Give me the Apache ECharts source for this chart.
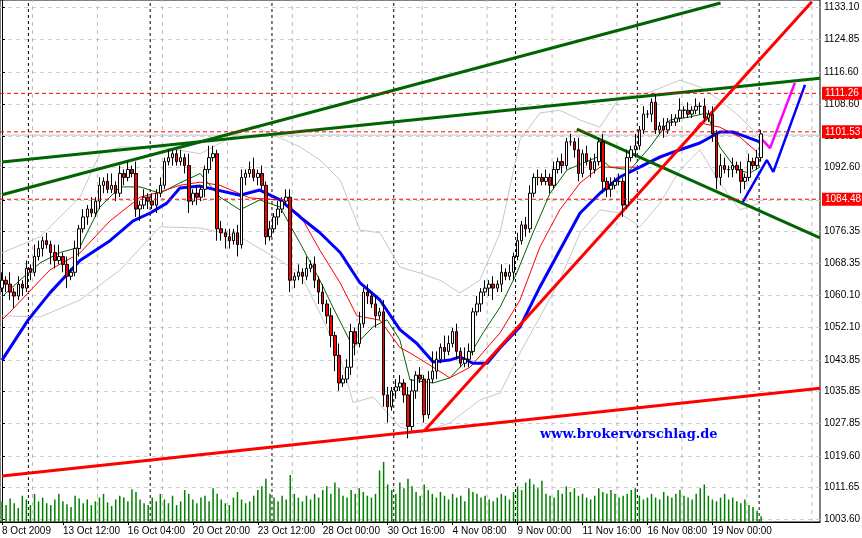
<!DOCTYPE html>
<html>
<head>
<meta charset="utf-8">
<script src="https://cdn.jsdelivr.net/npm/echarts@6/dist/echarts.min.js"></script>
<style>html,body{margin:0;padding:0;background:#fff}#chart{width:862px;height:538px}</style>
</head>
<body>
<div id="chart"></div>
<script>
// 4h bars, one label every 16 bars
const dateLabels = ['8 Oct 2009', '13 Oct 12:00', '16 Oct 04:00', '20 Oct 20:00', '23 Oct 12:00', '28 Oct 00:00',
  '30 Oct 16:00', '4 Nov 08:00', '9 Nov 00:00', '11 Nov 16:00', '16 Nov 08:00', '19 Nov 00:00', '', ''];
const priceTicks = [1133.10, 1124.85, 1116.60, 1108.60, 1100.35, 1092.60, 1084.35, 1076.35, 1068.35,
  1060.10, 1052.10, 1043.85, 1035.85, 1027.85, 1019.60, 1011.65, 1003.60];

const closes = [
  1064,1063,1061,1060,1063,1062,1067,1066,1070,1072,
  1074,1073,1071,1069,1070,1068,1065,1066,1072,1077,
  1080,1082,1081,1084,1088,1089,1087,1088,1086,1091,
  1090,1092,1091,1082,1083,1085,1084,1083,1086,1088,
  1094,1095,1096,1094,1095,1093,1084,1086,1085,1087,
  1092,1095,1096,1077,1076,1075,1074,1076,1073,1090,
  1091,1092,1090,1091,1088,1075,1077,1080,1082,1084,
  1085,1064,1065,1066,1065,1067,1068,1064,1061,1058,
  1055,1050,1045,1038,1039,1042,1051,1048,1053,1061,
  1060,1058,1055,1056,1035,1032,1036,1037,1038,1035,
  1027,1036,1040,1039,1030,1039,1041,1044,1047,1046,
  1048,1051,1046,1043,1044,1046,1056,1058,1061,1062,
  1063,1062,1063,1066,1065,1066,1070,1074,1078,1077,
  1086,1090,1090,1089,1090,1088,1092,1094,1093,1099,
  1099,1097,1091,1096,1094,1092,1094,1099,1089,1087,
  1088,1089,1089,1083,1095,1097,1098,1102,1106,1106,
  1109,1102,1103,1102,1104,1104,1105,1107,1107,1106,
  1107,1108,1108,1105,1106,1101,1090,1093,1092,1092,
  1093,1092,1089,1090,1094,1093,1095,1101
];
const firstOpen = 1062;
const wickUp = [
  2,1,3,1,2,1,2,1,3,2, 1,2,1,2,3,1,2,1,2,1, 2,1,3,1,2,1,2,3,1,2, 1,2,1,3,1,2,1,2,1,2,
  1,2,1,1,2,1,3,1,2,1, 1,3,2,1,2,1,2,1,2,2, 1,2,3,1,2,1,2,1,2,1, 2,2,1,2,1,3,1,2,1,2,
  1,2,1,3,1,2,2,1,3,1, 2,1,2,1,3,2,1,2,2,1, 2,3,1,2,1,2,5,2,1,3, 2,1,2,1,3,2,1,2,1,2,
  1,2,1,2,1,2,1,2,1,2, 2,1,2,1,2,1,2,1,2,1, 2,1,3,1,2,1,2,1,2,1, 2,1,2,1,2,1,3,1,2,1,
  1,2,1,2,1,2,1,3,1,2, 1,2,1,2,1,2,1,3,2,1, 2,1,2,1,2,1,2,1
];
const wickDn = [
  1,2,2,3,1,2,1,2,1,1, 2,1,3,2,1,2,3,1,1,2, 1,2,1,1,2,2,1,1,2,1, 2,1,1,2,3,1,2,1,2,1,
  1,1,2,1,1,2,3,1,2,1, 2,1,1,3,2,3,2,1,3,1, 2,1,1,2,1,2,1,1,2,1, 1,3,2,1,2,1,1,2,3,2,
  2,3,4,2,1,1,2,3,1,1, 2,1,3,1,3,4,1,2,1,2, 3,1,2,1,2,1,1,2,1,2, 1,1,2,1,1,2,1,1,2,1,
  2,3,1,2,1,1,2,1,1,2, 1,1,2,1,1,2,1,1,2,1, 1,2,2,1,1,2,1,1,3,2, 2,1,1,3,1,1,2,1,1,1,
  2,1,1,2,1,1,1,1,2,1, 1,1,2,1,1,2,3,2,1,2, 2,1,3,2,1,1,1,1
];
const volumes = [
  22,18,25,20,15,28,24,18,30,22, 26,20,18,24,30,22,19,16,28,25, 20,24,18,22,26,30,21,17,24,28,
  26,22,35,32,24,20,18,26,22,30, 24,20,28,18,22,34,30,24,20,26, 28,22,36,30,24,20,18,26,32,24,
  20,22,28,34,38,46,30,26,22,28, 24,50,30,26,22,28,24,30,26,34, 38,30,42,36,28,26,34,30,36,32,
  28,26,30,55,64,40,34,30,42,36, 46,38,32,28,40,34,30,26,32,28, 24,30,26,28,22,36,32,30,26,28,
  24,22,26,30,28,24,32,38,34,42, 46,40,36,44,30,28,26,34,30,38, 32,36,28,30,26,24,28,36,32,30,
  34,30,26,28,30,34,36,28,24,26, 30,26,24,32,28,26,30,34,28,26, 24,30,36,40,28,24,22,26,30,24,
  26,22,20,24,18,16,12,6
];

// indicator lines: [bar index, price]
const maBlue = [[0,1043.8],[6.4,1053.9],[11.8,1060.8],[19.2,1069],[26.6,1074],[32.3,1079],[36.5,1081],[40.6,1083.5],
  [43.8,1087.3],[48.8,1087.8],[58.6,1085.5],[63.5,1086.8],[68.5,1084.3],[73.4,1080],[78.3,1076],[83.3,1071],
  [88.2,1063.3],[93.1,1059],[98,1051.5],[102.2,1048],[106.2,1043.3],[110.3,1043.8],[112.8,1044.6],[116,1043],
  [119.5,1043],[122.7,1046.9],[127.6,1052.2],[132.5,1062.3],[137.4,1071.6],[142.4,1081],[147.3,1086],
  [152.2,1090.1],[157.1,1092.6],[162.1,1095.2],[167,1097],[171.9,1098.7],[176.8,1101.5],[180,1101.5],
  [183.5,1100.2],[186.7,1099]];
const maRed = [[0,1054],[2,1056],[11.8,1066.6],[19.2,1070.9],[26.6,1079],[34,1085],[38.9,1086.3],[43.8,1088],
  [48.8,1088.8],[53.7,1088],[61.1,1084.8],[68.5,1084.3],[73.4,1080.5],[78.3,1071.6],[83.3,1063.3],[87.4,1055],
  [93.1,1053.9],[98,1047],[100.5,1045.6],[106.2,1042],[110.3,1039.3],[115.3,1042],[122.7,1050.7],[127.6,1059],
  [132.5,1072.4],[137.4,1081.8],[142.4,1088.6],[147.3,1092.6],[152.2,1092.6],[157.1,1092.6],[167,1097],
  [171.9,1103.8],[176.8,1102.7],[181.8,1100.2],[186,1096.4]];
const maGreen = [[0,1059.8],[4.4,1064],[9.4,1068.4],[14.3,1071],[19.2,1072.4],[24.1,1082.5],[29.1,1087.6],
  [34,1087.6],[38.9,1086],[43.8,1088.6],[48.8,1091],[53.7,1085],[58.6,1081.8],[63.5,1084.3],[68.5,1082.5],
  [73.4,1073.4],[78.3,1064],[81.5,1057.2],[86.5,1047],[91.4,1052.2],[94.8,1054],[98,1048.9],[100.5,1038.8],
  [106.2,1038],[110.3,1039.3],[114.5,1043.8],[118.5,1050.7],[122.7,1057.2],[126.8,1065.8],[130.8,1076],
  [135,1086],[139.2,1091.9],[143.1,1093.6],[146.8,1095.2],[149.8,1092.6],[154.7,1091.9],[159.6,1097.7],
  [164.5,1104.5],[169.5,1105.3],[173.6,1106.3],[176.8,1097.7],[181,1091.9],[184.2,1091.1],[186.7,1092.6]];
const bandUp = [[0,1070.9],[9.4,1075],[19.2,1085],[24.1,1096],[29.1,1097.7],[38.9,1097.7],[48.8,1096],
  [61.8,1103],[68.5,1100],[73.4,1097.7],[78.3,1094.4],[83.3,1089.3],[88.2,1076.7],[93.1,1076],[98,1067.3],
  [103,1065.8],[107.9,1064],[112.8,1060.8],[117.7,1064],[122.7,1076],[127.6,1099.5],[132.5,1106.3],[137.4,1107],
  [142.4,1104.5],[147.3,1102.7],[152.2,1110.3],[158.9,1111.3],[167,1114.6],[171.9,1112.9],[176.8,1109.6],
  [181.8,1105.3],[186.7,1100.2]];
const bandDn = [[0,1055],[9.4,1054.7],[19.2,1059],[29.1,1066.6],[38.9,1077.5],[48.8,1077.2],[58.6,1075],
  [68.5,1069],[73.4,1065.8],[78.3,1055.7],[83.3,1044.6],[86.5,1033],[91.4,1034.5],[98,1026.9],[103,1025.4],
  [110.3,1027.9],[117.7,1033.7],[122.7,1035.5],[127.6,1045.6],[132.5,1054.7],[137.4,1064],[142.4,1076],
  [147.3,1081.8],[152.2,1081],[157.1,1077.5],[162.1,1083.5],[167,1091.9],[171.9,1097],[176.8,1088.6],
  [181.8,1081.8],[186.7,1083.5]];

// hand-drawn trend lines and projections
const greenTrendA = [[0,1085.6],[177,1134.1]];
const greenTrendB = [[0,1093.9],[201.5,1115.1]];
const greenTrendC = [[141.6,1102.2],[201.5,1074.7]];
const redTrendLow = [[0,1014.5],[201.5,1036.7]];
const redTrendUp = [[104.2,1026.1],[199.5,1134.4]];
const blueProjection = [[182.5,1083.8],[188.4,1094.4],[190,1091.4],[197.8,1113.4]];
const magentaProjection = [[186.7,1100.2],[189.2,1097.4],[195.3,1113.9]];
const levels = [1111.26, 1101.53, 1084.48];
const lastPrice = 1100.7;
const weekStarts = [6.5, 36.5, 66.5, 96.5, 126.5, 156.5, 186.5];
const gridCols = [7.5, 23.5, 39.5, 55.5, 71.5, 87.5, 103.5, 119.5, 135.5, 151.5, 167.5, 183.5, 199.5];

const N = 202;
const Y_MIN = 1002.85, Y_MAX = 1134.87;
// label k sits on bar 16k-1 (first one on bar 0), left-aligned like the terminal
const cats = Array.from({ length: N }, () => '');
dateLabels.forEach((d, k) => { const i = k === 0 ? 0 : 16 * k - 1; if (i < N) cats[i] = d; });
const ohlc = closes.map((c, i) => {
  const o = i === 0 ? firstOpen : closes[i - 1];
  return [o, c, Math.min(o, c) - wickDn[i], Math.max(o, c) + wickUp[i]];
});

const chart = echarts.init(document.getElementById('chart'));
const line = (data, color, width, type = 'solid', z = 3) => ({
  type: 'line', xAxisIndex: 1, yAxisIndex: 0, data, symbol: 'none', silent: true,
  lineStyle: { color, width, type }, z
});
const vline = (x, color, dash, z) => line([[x, Y_MIN], [x, Y_MAX]], color, 1, dash, z);
const hline = (v, color, dash, z) => line([[-0.5, v], [N - 0.5, v]], color, 1, dash, z);

chart.setOption({
  animation: false,
  backgroundColor: '#fff',
  textStyle: { fontFamily: 'Liberation Sans' },
  grid: [
    { left: 0, right: 42, top: 0, bottom: 16, show: true, borderColor: '#000', borderWidth: 1,
      containLabel: false, outerBoundsMode: 'none' },
    { left: 0, right: 42, top: 400, bottom: 16, containLabel: false, outerBoundsMode: 'none' }
  ],
  xAxis: [
    {
      type: 'category', data: cats, gridIndex: 0, boundaryGap: true,
      axisLine: { lineStyle: { color: '#000' } },
      axisTick: { show: true, length: 3, alignWithLabel: true, interval: i => cats[i] !== '', lineStyle: { color: '#000' } },
      axisLabel: { interval: i => cats[i] !== '', fontSize: 10, color: '#000', margin: 4, align: 'left' },
      splitLine: { show: false }
    },
    {
      type: 'value', gridIndex: 0, min: -0.5, max: N - 0.5, show: true,
      axisLine: { show: false }, axisTick: { show: false }, axisLabel: { show: false },
      splitLine: { show: false }
    },
    { type: 'category', gridIndex: 1, data: cats, show: false, boundaryGap: true }
  ],
  yAxis: [
    {
      type: 'value', position: 'right', min: Y_MIN, max: Y_MAX, scale: true,
      axisLine: { show: true, lineStyle: { color: '#000' } },
      axisTick: { show: true, customValues: priceTicks, length: 3, lineStyle: { color: '#000' } },
      axisLabel: { customValues: priceTicks, fontSize: 10, color: '#000', margin: 4,
        formatter: v => v.toFixed(2) },
      splitLine: { show: true, lineStyle: { color: '#cfcfcf', type: [4, 4] } }
    },
    { type: 'value', gridIndex: 1, min: 0, max: 130, show: false }
  ],
  series: [
    ...gridCols.map(x => vline(x, '#bdbdbd', [4, 4], 1)),
    ...weekStarts.map(x => vline(x, '#000', [3, 3], 2)),
    hline(lastPrice, '#c0c0c0', 'solid', 2),
    line(bandUp, '#c8c8c8', 1),
    line(bandDn, '#c8c8c8', 1),
    {
      type: 'candlestick', xAxisIndex: 0, yAxisIndex: 0, data: ohlc, barWidth: 3, z: 4,
      itemStyle: { color: '#fff', color0: '#ff0000', borderColor: '#000', borderColor0: '#000', borderWidth: 1 }
    },
    line(maGreen, '#006400', 1),
    line(maRed, '#ff0000', 1),
    line(maBlue, '#0000ff', 3),
    line(greenTrendA, '#006400', 3),
    line(greenTrendB, '#006400', 3),
    line(greenTrendC, '#006400', 3),
    line(redTrendLow, '#ff0000', 3),
    line(redTrendUp, '#ff0000', 3),
    line(blueProjection, '#0000ff', 2.5),
    line(magentaProjection, '#ff00ff', 2.5),
    ...levels.map(v => ({
      ...hline(v, '#ff0000', [4, 3], 5),
      endLabel: { show: true, formatter: v.toFixed(2), color: '#fff', backgroundColor: '#ff0000',
        fontSize: 10, padding: [2, 3, 1, 3], distance: 2 }
    })),
    {
      type: 'bar', xAxisIndex: 2, yAxisIndex: 1, data: volumes, barWidth: 1.5,
      itemStyle: { color: '#008000' }, silent: true
    }
  ],
  graphic: [{
    type: 'text', left: 540, top: 428, z: 10,
    style: { text: 'www.brokervorschlag.de', fill: '#0000ff', font: 'bold 13px "DejaVu Serif"' }
  }]
});
</script>
</body>
</html>
